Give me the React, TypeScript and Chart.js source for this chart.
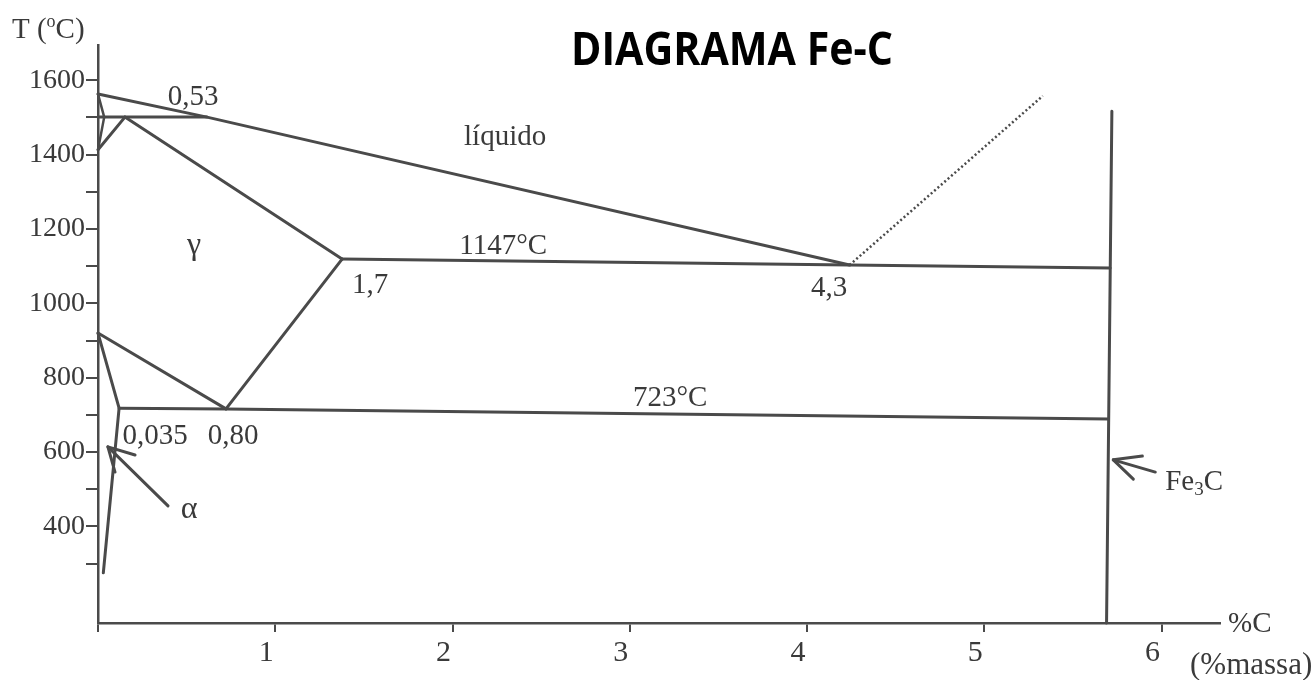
import React, { useEffect, useRef } from 'react';
import { Chart, registerables } from 'chart.js';

Chart.register(...registerables);

// ---- axis ticks ----
const X_TICKS = [0, 1, 2, 3, 4, 5, 6];
const Y_TICKS = [300, 400, 500, 600, 700, 800, 900, 1000, 1100, 1200, 1300, 1400, 1500, 1600];
const Y_LABELS = [400, 600, 800, 1000, 1200, 1400, 1600];

// ---- phase boundaries (x = %C, y = T °C) ----
const LIQUIDUS = [{ x: 0, y: 1563 }, { x: 0.615, y: 1501 }, { x: 4.24, y: 1103 }];
const DELTA = [{ x: 0, y: 1563 }, { x: 0.035, y: 1501 }, { x: 0, y: 1413 }];
const PERITECTIC = [{ x: 0, y: 1501 }, { x: 0.615, y: 1501 }];
const GAMMA_DELTA = [{ x: 0, y: 1413 }, { x: 0.152, y: 1501 }];
const SOLIDUS = [{ x: 0.152, y: 1501 }, { x: 1.377, y: 1119 }];
const EUTECTIC = [{ x: 1.377, y: 1119 }, { x: 4.24, y: 1103 }, { x: 5.71, y: 1095 }];
const LIQUIDUS_FE3C = [{ x: 4.24, y: 1103 }, { x: 5.33, y: 1558 }];
const A3 = [{ x: 0, y: 920 }, { x: 0.722, y: 716 }];
const ACM = [{ x: 0.722, y: 716 }, { x: 1.377, y: 1119 }];
const ALPHA_SOLVUS = [{ x: 0, y: 920 }, { x: 0.119, y: 718 }, { x: 0.03, y: 275 }];
const EUTECTOID = [{ x: 0.119, y: 718 }, { x: 0.722, y: 716 }, { x: 5.7, y: 689 }];
const FE3C_LINE = [{ x: 5.72, y: 1517 }, { x: 5.69, y: 140 }];

// ---- arrows ----
const ALPHA_ARROW_SHAFT = [{ x: 0.395, y: 455 }, { x: 0.056, y: 614 }];
const ALPHA_ARROW_HEAD = [{ x: 0.209, y: 592 }, { x: 0.056, y: 614 }, { x: 0.096, y: 546 }];
const FE3C_ARROW_SHAFT = [{ x: 5.965, y: 546 }, { x: 5.728, y: 579 }];
const FE3C_ARROW_HEAD = [{ x: 5.892, y: 589 }, { x: 5.728, y: 579 }, { x: 5.841, y: 527 }];

// ---- labels (anchored in data units) ----
const LABELS = [
  { text: '0,53', x: 0.536, y: 1555, size: 29 },
  { text: 'líquido', x: 2.297, y: 1447, size: 29 },
  { text: 'γ', x: 0.542, y: 1154, size: 32 },
  { text: '1147°C', x: 2.286, y: 1152, size: 29 },
  { text: '1,7', x: 1.535, y: 1047, size: 29 },
  { text: '4,3', x: 4.125, y: 1041, size: 29 },
  { text: '723°C', x: 3.228, y: 745, size: 29 },
  { text: '0,035', x: 0.322, y: 643, size: 29 },
  { text: '0,80', x: 0.762, y: 643, size: 29 },
  { text: 'α', x: 0.514, y: 444, size: 32 },
];
const FE3C_LABEL = { x: 6.021, y: 498 };

const LINE = '#4a4a4a';
const TEXT = '#3a3a3a';
const SERIF = '"Liberation Serif", "Times New Roman", serif';

const textPlugin = {
  id: 'feCText',
  beforeDraw(chart: any) {
    const { ctx } = chart;
    ctx.save();
    ctx.fillStyle = '#ffffff';
    ctx.fillRect(0, 0, chart.width, chart.height);
    ctx.restore();
  },
  afterDatasetsDraw(chart: any) {
    const { ctx } = chart;
    const xs = chart.scales.x;
    const ys = chart.scales.y;
    ctx.save();
    ctx.fillStyle = TEXT;
    ctx.textAlign = 'center';
    ctx.textBaseline = 'middle';
    LABELS.forEach((l) => {
      ctx.font = `${l.size}px ${SERIF}`;
      ctx.fillText(l.text, xs.getPixelForValue(l.x), ys.getPixelForValue(l.y));
    });

    // Fe3C label with subscript
    ctx.textAlign = 'left';
    ctx.textBaseline = 'alphabetic';
    let px = xs.getPixelForValue(FE3C_LABEL.x);
    const py = ys.getPixelForValue(FE3C_LABEL.y);
    ctx.font = `29px ${SERIF}`;
    ctx.fillText('Fe', px, py);
    px += ctx.measureText('Fe').width;
    ctx.font = `19px ${SERIF}`;
    ctx.fillText('3', px, py + 5);
    px += ctx.measureText('3').width;
    ctx.font = `29px ${SERIF}`;
    ctx.fillText('C', px, py);

    // axis titles
    let tx = 12;
    ctx.font = `29px ${SERIF}`;
    ctx.fillText('T (', tx, 38);
    tx += ctx.measureText('T (').width;
    ctx.font = `18px ${SERIF}`;
    ctx.fillText('o', tx, 27);
    tx += ctx.measureText('o').width;
    ctx.font = `29px ${SERIF}`;
    ctx.fillText('C)', tx, 38);

    ctx.fillText('%C', 1228, 632);
    ctx.font = `31px ${SERIF}`;
    ctx.fillText('(%massa)', 1190, 674);

    // title
    ctx.fillStyle = '#000000';
    ctx.font = `bold 46px "Open Sans", "Noto Sans", sans-serif`;
    ctx.textAlign = 'center';
    ctx.fillText('DIAGRAMA Fe-C', 732, 65, 322);
    ctx.restore();
  },
};

function line(data: any[], extra: any = {}) {
  return {
    data,
    showLine: true,
    borderColor: LINE,
    borderWidth: 3,
    pointRadius: 0,
    fill: false,
    tension: 0,
    clip: false,
    borderCapStyle: 'round',
    borderJoinStyle: 'round',
    ...extra,
  };
}

export default function App() {
  const ref = useRef<HTMLCanvasElement | null>(null);

  useEffect(() => {
    document.body.style.margin = '0';
    const canvas = ref.current;
    if (!canvas) return;
    const chart = new Chart(canvas, {
      type: 'scatter',
      data: {
        datasets: [
          line(LIQUIDUS),
          line(DELTA, { borderWidth: 2.5 }),
          line(PERITECTIC),
          line(GAMMA_DELTA),
          line(SOLIDUS),
          line(EUTECTIC),
          line(LIQUIDUS_FE3C, { borderWidth: 2.5, borderDash: [2, 2.5], borderCapStyle: 'butt' }),
          line(A3),
          line(ACM),
          line(ALPHA_SOLVUS),
          line(EUTECTOID),
          line(FE3C_LINE),
          line(ALPHA_ARROW_SHAFT),
          line(ALPHA_ARROW_HEAD),
          line(FE3C_ARROW_SHAFT),
          line(FE3C_ARROW_HEAD),
        ] as any,
      },
      options: {
        animation: false,
        responsive: false,
        events: [],
        layout: { padding: { top: 45, right: 96, left: 0, bottom: 0 } },
        plugins: { legend: { display: false }, tooltip: { enabled: false } },
        scales: {
          x: {
            type: 'linear',
            min: 0,
            max: 6.33,
            afterBuildTicks: (a: any) => {
              a.ticks = X_TICKS.map((v) => ({ value: v }));
            },
            afterFit: (a: any) => {
              a.height = 57;
            },
            border: { display: true, color: LINE, width: 2.5 },
            grid: {
              drawOnChartArea: false,
              drawTicks: true,
              tickLength: 9,
              color: LINE,
              tickColor: LINE,
              lineWidth: 2,
              tickWidth: 2,
            },
            ticks: {
              autoSkip: false,
              maxRotation: 0,
              padding: 3,
              labelOffset: -9,
              color: TEXT,
              font: { family: SERIF, size: 30 },
              callback: (v: any) => (v === 0 ? '' : String(v)),
            },
          },
          y: {
            type: 'linear',
            min: 140,
            max: 1695,
            afterBuildTicks: (a: any) => {
              a.ticks = Y_TICKS.map((v) => ({ value: v }));
            },
            afterFit: (a: any) => {
              a.width = 98;
            },
            border: { display: true, color: LINE, width: 2.5 },
            grid: {
              drawOnChartArea: false,
              drawTicks: true,
              tickLength: 12,
              color: LINE,
              tickColor: LINE,
              lineWidth: 2,
              tickWidth: 2,
            },
            ticks: {
              autoSkip: false,
              padding: 1,
              color: TEXT,
              font: { family: SERIF, size: 28 },
              callback: (v: any) => (Y_LABELS.includes(v) ? String(v) : ''),
            },
          },
        },
      } as any,
      plugins: [textPlugin],
    });
    return () => chart.destroy();
  }, []);

  return (
    <div style={{ width: 1316, height: 680 }}>
      <canvas ref={ref} width={1316} height={680} style={{ display: 'block' }} />
    </div>
  );
}
